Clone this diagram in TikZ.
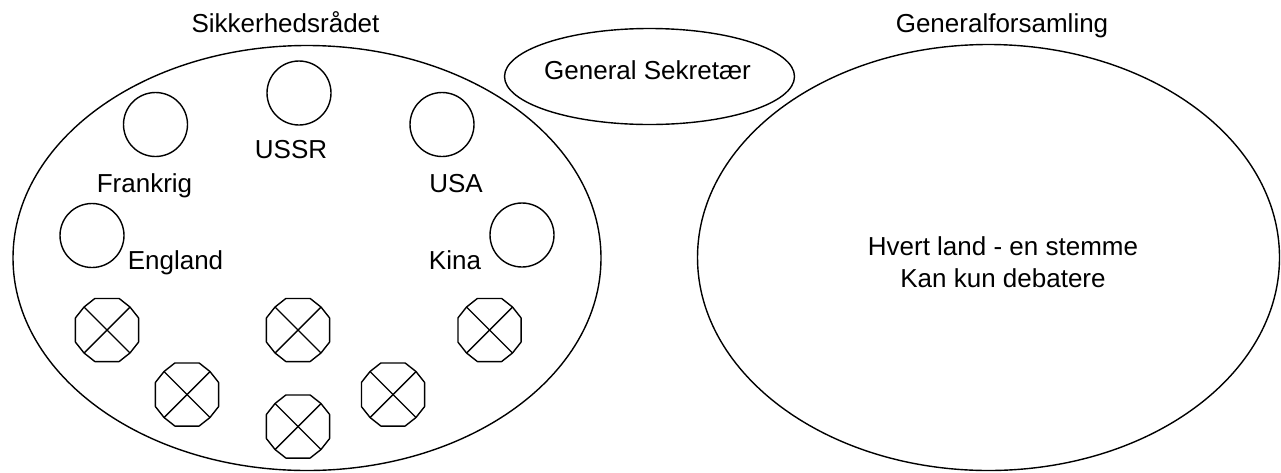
\documentclass[tikz,border=0pt]{standalone}
\usepackage{fontspec}
\setmainfont{Liberation Sans}
\usetikzlibrary{shapes.geometric}
\begin{document}
\begin{tikzpicture}[x=1pt,y=-1pt, line width=1.4pt,
  lbl/.style={font=\fontsize{26}{32}\selectfont, inner sep=0pt, anchor=base},
  member/.style={draw, circle, minimum size=64pt, inner sep=0pt},
  elected/.style={circle, minimum size=65pt, inner sep=0pt, outer sep=0pt},
  area/.style={draw, ellipse, inner sep=0pt}]
\useasboundingbox (0,0) rectangle (1281,472);

% main ellipses
\node[area, minimum width=588pt, minimum height=425pt] (sr) at (307,258) {};
\node[area, minimum width=582pt, minimum height=426pt] (ga) at (988.5,257.5) {};
\node[area, minimum width=290pt, minimum height=96pt] (gs) at (649.5,76.5) {};

% titles
\node[lbl] (srtitle) at (285.5,32) {Sikkerhedsrådet};
\node[lbl] (gatitle) at (1002,32) {Generalforsamling};
\node[lbl] (gstext) at (647.5,79) {General Sekretær};
\node[font=\fontsize{26}{32}\selectfont, inner sep=0pt, align=center] (gatext) at (1003,262)
  {Hvert land - en stemme\\Kan kun debatere};

% permanent members
\node[member] (fr) at (155.5,124.5) {};
\node[member] (su) at (299,93) {};
\node[member] (us) at (442,124.5) {};
\node[member] (en) at (92,235.5) {};
\node[member] (cn) at (522,235) {};

\node[lbl] (frl) at (144.5,192) {Frankrig};
\node[lbl] (sul) at (291,158) {USSR};
\node[lbl] (usl) at (456,192) {USA};
\node[lbl] (enl) at (175.5,269) {England};
\node[lbl] (cnl) at (455,269) {Kina};

% elected members
\node[elected] (x1) at (107,330) {};
\node[elected] (x2) at (187,394.5) {};
\node[elected] (x3) at (298,330) {};
\node[elected] (x4) at (298,426.5) {};
\node[elected] (x5) at (393,394.5) {};
\node[elected] (x6) at (489.5,330) {};
\foreach \n in {x1,x2,x3,x4,x5,x6} {
  \draw[shift={(\n)}, line join=round]
    (21:33.8) -- (45:32.5) -- (69:33.8) -- (111:33.8) -- (135:32.5) -- (159:33.8)
    -- (201:33.8) -- (225:32.5) -- (249:33.8) -- (291:33.8) -- (315:32.5) -- (339:33.8) -- cycle;
  \draw (\n.45) -- (\n.225);
  \draw (\n.135) -- (\n.315);
}
\end{tikzpicture}
\end{document}
